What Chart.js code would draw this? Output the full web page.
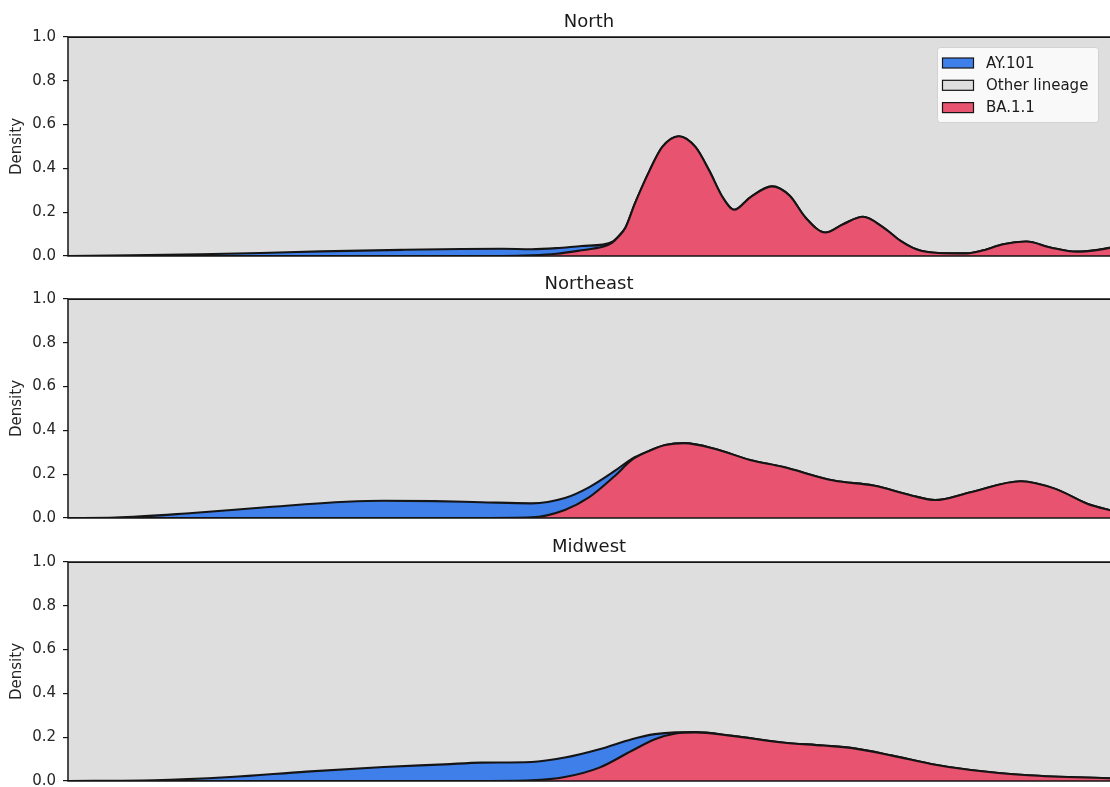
<!DOCTYPE html>
<html>
<head>
<meta charset="utf-8">
<script src="https://cdn.jsdelivr.net/npm/chart.js@4.4.1/dist/chart.umd.min.js"></script>
<style>
  html, body { margin: 0; padding: 0; background: #fff; overflow: hidden; width: 1110px; height: 787px; }
  canvas.panel { position: absolute; left: 0; }
</style>
</head>
<body>
<canvas id="north" class="panel" width="1114" height="272" style="top:0px"></canvas>
<canvas id="northeast" class="panel" width="1114" height="272" style="top:262px"></canvas>
<canvas id="midwest" class="panel" width="1114" height="272" style="top:525px"></canvas>
<script>
// Lineage density (stacked share) sampled along the study period (0–100 %).
const lineageNames = ['AY.101', 'Other lineage', 'BA.1.1'];
const yTicks = [0.0, 0.2, 0.4, 0.6, 0.8, 1.0];

const northPos   = [0, 6.0, 12.7, 18.4, 24.2, 31.9, 37.6, 41.5, 44.3, 46.7, 49.1, 51.1, 52.0, 52.7, 53.3, 54.2, 55.6, 56.8, 58.4, 60.0, 61.3, 62.6, 63.7, 65.2, 67.3, 69.0, 70.5, 72.4, 74.1, 76.0, 77.9, 79.6, 81.1, 83.2, 85.9, 87.5, 89.4, 91.6, 94.0, 96.4, 98.3, 100];
const northBA11  = [0, 0, 0, 0, 0, 0, 0, 0, 0.003, 0.010, 0.026, 0.042, 0.060, 0.092, 0.130, 0.240, 0.390, 0.497, 0.547, 0.497, 0.390, 0.267, 0.211, 0.267, 0.318, 0.275, 0.176, 0.107, 0.145, 0.179, 0.132, 0.069, 0.031, 0.014, 0.012, 0.026, 0.054, 0.066, 0.038, 0.020, 0.027, 0.041];
const northAY101 = [0, 0.003, 0.008, 0.014, 0.021, 0.028, 0.032, 0.033, 0.028, 0.026, 0.020, 0.010, 0.004, 0.002, 0, 0, 0, 0, 0, 0, 0, 0, 0, 0, 0, 0, 0, 0, 0, 0, 0, 0, 0, 0, 0, 0, 0, 0, 0, 0, 0, 0];

const northeastPos   = [0, 4.5, 11.9, 19.2, 26.6, 30.2, 35.0, 39.5, 44.3, 47.5, 49.8, 52.3, 53.9, 55.6, 57.1, 58.9, 61.9, 65.2, 68.3, 73.2, 77.0, 80.7, 82.9, 86.3, 91.1, 94.4, 97.5, 100];
const northeastBA11  = [0, 0, 0, 0, 0, 0, 0, 0, 0.003, 0.037, 0.094, 0.193, 0.265, 0.307, 0.333, 0.342, 0.315, 0.265, 0.234, 0.171, 0.148, 0.102, 0.082, 0.118, 0.168, 0.133, 0.064, 0.031];
const northeastAY101 = [0, 0.002, 0.023, 0.050, 0.074, 0.079, 0.077, 0.072, 0.064, 0.054, 0.046, 0.023, 0.005, 0, 0, 0, 0, 0, 0, 0, 0, 0, 0, 0, 0, 0, 0, 0];

const midwestPos   = [0, 8.2, 15.5, 22.8, 30.2, 36.0, 39.5, 44.3, 47.5, 50.8, 53.9, 56.1, 58.1, 60.0, 63.5, 68.3, 72.2, 75.0, 78.8, 82.5, 86.3, 91.8, 100];
const midwestBA11  = [0, 0, 0, 0, 0, 0, 0, 0.003, 0.018, 0.061, 0.138, 0.191, 0.217, 0.222, 0.206, 0.176, 0.162, 0.150, 0.116, 0.078, 0.050, 0.026, 0.012];
const midwestAY101 = [0, 0.003, 0.018, 0.043, 0.064, 0.076, 0.084, 0.084, 0.089, 0.084, 0.053, 0.023, 0.005, 0.001, 0, 0, 0, 0, 0, 0, 0, 0, 0];

const COLORS = { 'AY.101': '#3F7FEA', 'Other lineage': '#DEDEDE', 'BA.1.1': '#E8536F' };
const INK = '#151515';
const FONT = 'DejaVu Sans';

Chart.defaults.font.family = FONT;
Chart.defaults.color = '#262626';

// Axes frame: left, top and bottom spines.
const framePlugin = {
  id: 'frame',
  afterDatasetsDraw(chart) {
    const { ctx, chartArea: { left, top, right, bottom } } = chart;
    ctx.save();
    ctx.strokeStyle = INK;
    ctx.lineWidth = 1.5;
    ctx.beginPath();
    ctx.moveTo(right + 4, top);
    ctx.lineTo(left, top);
    ctx.lineTo(left, bottom);
    ctx.lineTo(right + 4, bottom);
    ctx.stroke();
    ctx.restore();
  }
};

// Panel title centred above the plot area.
const panelTitlePlugin = {
  id: 'panelTitle',
  afterDraw(chart, args, opts) {
    const { ctx, chartArea: { left, top } } = chart;
    ctx.save();
    ctx.font = '18px ' + FONT;
    ctx.fillStyle = '#1a1a1a';
    ctx.textAlign = 'center';
    ctx.textBaseline = 'alphabetic';
    ctx.fillText(opts.text, (left + 1110) / 2, top - 10);
    ctx.restore();
  }
};

// Legend boxed inside the upper-right corner of the plot.
const insetLegendPlugin = {
  id: 'insetLegend',
  afterDraw(chart, args, opts) {
    if (!opts.show) return;
    const { ctx, chartArea: { top } } = chart;
    const w = 161, h = 75;
    const x = 1098 - w, y = top + 10;
    ctx.save();
    ctx.fillStyle = 'rgba(255,255,255,0.8)';
    ctx.strokeStyle = 'rgba(204,204,204,0.8)';
    ctx.lineWidth = 1;
    ctx.beginPath();
    ctx.roundRect(x + 0.5, y + 0.5, w, h, 3);
    ctx.fill();
    ctx.stroke();
    ctx.font = '15px ' + FONT;
    ctx.textBaseline = 'middle';
    lineageNames.forEach((name, i) => {
      const cy = y + 16 + i * 22.3;
      ctx.fillStyle = COLORS[name];
      ctx.fillRect(x + 5.5, cy - 5, 31, 10);
      ctx.strokeStyle = INK;
      ctx.lineWidth = 1.2;
      ctx.strokeRect(x + 5.5, cy - 5, 31, 10);
      ctx.fillStyle = '#1a1a1a';
      ctx.fillText(name, x + 49, cy + 1);
    });
    ctx.restore();
  }
};

function buildPanel(id, title, pos, ba11, ay101, showLegend) {
  const pts = vals => pos.map((x, i) => ({ x, y: vals[i] }));
  const other = ba11.map((v, i) => 1 - v - ay101[i]);
  const common = {
    borderColor: INK,
    borderWidth: 2.1,
    pointRadius: 0,
    cubicInterpolationMode: 'monotone'
  };
  new Chart(document.getElementById(id), {
    type: 'line',
    data: {
      datasets: [
        { ...common, label: 'BA.1.1', data: pts(ba11), backgroundColor: COLORS['BA.1.1'], fill: 'origin' },
        { ...common, label: 'AY.101', data: pts(ay101), backgroundColor: COLORS['AY.101'], fill: '-1' },
        { ...common, label: 'Other lineage', data: pts(other), backgroundColor: COLORS['Other lineage'], fill: '-1' }
      ]
    },
    options: {
      responsive: false,
      animation: false,
      devicePixelRatio: 1,
      layout: { padding: { top: 37, bottom: 7, left: 0, right: 0 } },
      scales: {
        x: { type: 'linear', min: 0, max: 100, display: false },
        y: {
          stacked: true,
          min: 0,
          max: 1,
          afterFit(scale) { scale.width = 68; },
          afterBuildTicks(scale) { scale.ticks = yTicks.map(v => ({ value: v })); },
          ticks: {
            padding: 7,
            color: '#262626',
            font: { family: FONT, size: 15 },
            callback: v => Number(v).toFixed(1)
          },
          grid: { display: true, drawOnChartArea: false, drawTicks: true, tickLength: 5, color: INK, lineWidth: 1.2 },
          border: { display: false },
          title: { display: true, text: 'Density', color: '#262626', font: { family: FONT, size: 15 }, padding: { top: 8, bottom: 0 } }
        }
      },
      plugins: {
        legend: { display: false },
        tooltip: { enabled: false },
        panelTitle: { text: title },
        insetLegend: { show: showLegend }
      }
    },
    plugins: [framePlugin, panelTitlePlugin, insetLegendPlugin]
  });
}

buildPanel('north', 'North', northPos, northBA11, northAY101, true);
buildPanel('northeast', 'Northeast', northeastPos, northeastBA11, northeastAY101, false);
buildPanel('midwest', 'Midwest', midwestPos, midwestBA11, midwestAY101, false);
</script>
</body>
</html>
